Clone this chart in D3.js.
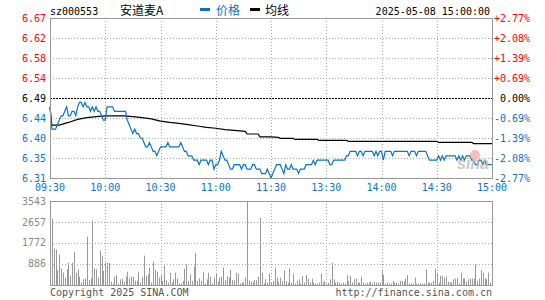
<!DOCTYPE html>
<html>
<head>
<meta charset="utf-8">
<script src="https://cdn.jsdelivr.net/npm/d3@7"></script>
<style>
  body { margin: 0; background: #fff; }
  svg { display: block; }
  text { font-family: "DejaVu Sans Mono", monospace; font-size: 10px; }
</style>
</head>
<body>
<div id="chart"></div>
<script>
// minute-by-minute price, 09:30 .. 11:30 (0..120) then 13:01 .. 15:00 (121..240)
var priceAM = [
  6.47, 6.42, 6.42, 6.42, 6.43, 6.44, 6.45, 6.45, 6.46, 6.47,
  6.45, 6.45, 6.46, 6.46, 6.45, 6.47, 6.48, 6.48, 6.47, 6.48,
  6.47, 6.47, 6.46, 6.47, 6.46, 6.47, 6.46, 6.46, 6.45, 6.44,
  6.44, 6.47, 6.47, 6.47, 6.47, 6.46, 6.46, 6.46, 6.46, 6.46,
  6.46, 6.46, 6.44, 6.43, 6.42, 6.41, 6.42, 6.41, 6.41, 6.40,
  6.40, 6.39, 6.38, 6.38, 6.39, 6.38, 6.37, 6.37, 6.36, 6.37,
  6.38, 6.38, 6.38, 6.38, 6.39, 6.38, 6.38, 6.38, 6.38, 6.38,
  6.38, 6.39, 6.38, 6.37, 6.37, 6.36, 6.36, 6.36, 6.35, 6.35,
  6.35, 6.34, 6.35, 6.35, 6.35, 6.35, 6.34, 6.35, 6.35, 6.33,
  6.34, 6.34, 6.35, 6.37, 6.36, 6.35, 6.35, 6.34, 6.33, 6.33,
  6.34, 6.34, 6.34, 6.34, 6.33, 6.34, 6.34, 6.33, 6.33, 6.33,
  6.34, 6.34, 6.33, 6.33, 6.33, 6.32, 6.32, 6.32, 6.33, 6.32,
  6.31
]
var pricePM = [
  6.32, 6.33, 6.34, 6.34, 6.34, 6.33, 6.32, 6.34, 6.33, 6.33,
  6.34, 6.33, 6.33, 6.33, 6.32, 6.33, 6.33, 6.33, 6.34, 6.34,
  6.34, 6.34, 6.35, 6.34, 6.35, 6.35, 6.35, 6.35, 6.35, 6.35,
  6.35, 6.34, 6.34, 6.35, 6.35, 6.35, 6.35, 6.35, 6.35, 6.35,
  6.36, 6.36, 6.37, 6.37, 6.37, 6.37, 6.36, 6.37, 6.37, 6.36,
  6.37, 6.37, 6.37, 6.37, 6.37, 6.36, 6.37, 6.36, 6.37, 6.37,
  6.35, 6.37, 6.37, 6.37, 6.37, 6.36, 6.37, 6.37, 6.37, 6.37,
  6.37, 6.37, 6.37, 6.37, 6.36, 6.37, 6.37, 6.37, 6.36, 6.37,
  6.37, 6.37, 6.37, 6.37, 6.36, 6.35, 6.35, 6.35, 6.35, 6.35,
  6.36, 6.35, 6.36, 6.35, 6.36, 6.36, 6.36, 6.36, 6.36, 6.36,
  6.35, 6.36, 6.35, 6.36, 6.35, 6.36, 6.36, 6.36, 6.35, 6.35,
  6.34, 6.34, 6.35, 6.35, 6.34, 6.35, 6.34, 6.34, 6.34, 6.34
]

// average price line, read at its turning points
var avgMinute = [0, 1, 5, 10, 15, 20, 25, 30, 40, 45, 50, 55, 60, 65, 70, 75, 80, 85, 90, 95, 100, 106, 107, 113, 114, 120, 124, 125, 132, 133, 145, 146, 161, 162, 210, 211, 229, 230, 240]
var avgPrice  = [6.47, 6.429, 6.429, 6.435, 6.442, 6.446, 6.448, 6.45, 6.45, 6.448, 6.446, 6.443, 6.438, 6.435, 6.433, 6.43, 6.427, 6.424, 6.422, 6.419, 6.417, 6.415, 6.409, 6.409, 6.4025, 6.4025, 6.4015, 6.3993, 6.3993, 6.397, 6.397, 6.3948, 6.3948, 6.3925, 6.3925, 6.390, 6.390, 6.3875, 6.3875]

var volAM = [
  280, 2800, 1530, 1500, 620, 1290, 700, 520, 310, 660,
  940, 390, 940, 1400, 520, 660, 350, 100, 240, 280,
  2040, 200, 280, 2730, 700, 660, 310, 1460, 1240, 590,
  940, 940, 930, 140, 60, 350, 420, 60, 240, 270,
  140, 350, 560, 270, 350, 350, 180, 180, 560, 100,
  350, 1240, 380, 450, 730, 100, 980, 650, 560, 310,
  420, 170, 830, 200, 100, 520, 100, 240, 520, 280,
  60, 60, 170, 690, 870, 170, 450, 170, 770, 1360,
  170, 280, 170, 560, 60, 240, 520, 350, 60, 310,
  480, 140, 310, 350, 730, 200, 380, 310, 650, 200,
  200, 520, 480, 60, 100, 100, 310, 3543, 180, 150,
  100, 200, 200, 350, 2840, 520, 60, 240, 100, 480,
  100
]
var volPM = [
  170, 730, 310, 140, 310, 170, 620, 170, 100, 700,
  100, 480, 60, 170, 240, 60, 380, 100, 420, 270,
  100, 270, 100, 60, 60, 100, 480, 100, 170, 60,
  100, 240, 940, 240, 100, 140, 100, 60, 100, 60,
  420, 170, 380, 100, 240, 280, 100, 100, 350, 100,
  60, 100, 100, 140, 60, 140, 100, 100, 100, 650,
  420, 60, 100, 60, 60, 170, 100, 100, 60, 170,
  170, 140, 270, 420, 60, 60, 60, 310, 60, 60,
  60, 60, 60, 660, 100, 100, 100, 170, 700, 480,
  100, 390, 390, 310, 350, 140, 100, 100, 240, 280,
  310, 60, 520, 280, 280, 140, 240, 270, 270, 270,
  870, 170, 270, 620, 520, 280, 240, 520, 100, 620
]

var timeMinute = [0, 30, 60, 90, 120, 150, 180, 210, 240]
var timeLabels = ["09:30", "10:00", "10:30", "11:00", "11:30", "13:30", "14:00", "14:30", "15:00"]
var priceLevels = [6.67, 6.625, 6.58, 6.535, 6.49, 6.445, 6.40, 6.355, 6.31]
var priceLabels = ["6.67", "6.62", "6.58", "6.54", "6.49", "6.44", "6.40", "6.35", "6.31"]
var pctLabels = ["+2.77%", "+2.08%", "+1.39%", "+0.69%", "0.00%", "-0.69%", "-1.39%", "-2.08%", "-2.77%"]
var volLevels = [3543, 2657, 1772, 886]
var volLabels = ["3543", "2657", "1772", "886"]

var prevClose = 6.49
var blue = "#0b74c8", red = "#f00", gray = "#999"

var price = priceAM.concat(pricePM)
var volume = volAM.concat(volPM)

var svg = d3.select("#chart").append("svg")
  .attr("width", 545)
  .attr("height", 300)

var x = d3.scaleLinear().domain([0, 240]).range([50, 492])
var y = d3.scaleLinear().domain([6.31, 6.67]).range([178, 18])
var yv = d3.scaleLinear().domain([0, 3543]).range([285, 201])

function colorOf(i) { return i < 4 ? red : (i == 4 ? "#000" : blue) }

// price panel grid
var g = svg.append("g")
g.selectAll(".hgrid").data(priceLevels.filter(function(d) { return d != prevClose }))
  .enter().append("line")
  .attr("x1", x(0)).attr("x2", x(240))
  .attr("y1", function(d) { return Math.round(y(d)) + 0.5 })
  .attr("y2", function(d) { return Math.round(y(d)) + 0.5 })
  .attr("stroke", "#aaa").attr("stroke-dasharray", "1,2")

g.selectAll(".vgrid").data(timeMinute.slice(1, -1))
  .enter().append("line")
  .attr("x1", function(d) { return Math.round(x(d)) + 0.5 })
  .attr("x2", function(d) { return Math.round(x(d)) + 0.5 })
  .attr("y1", y(6.67)).attr("y2", y(6.31))
  .attr("stroke", "#aaa").attr("stroke-dasharray", "1,2")

g.append("line")
  .attr("x1", x(0)).attr("x2", x(240))
  .attr("y1", Math.round(y(prevClose)) + 0.5).attr("y2", Math.round(y(prevClose)) + 0.5)
  .attr("stroke", "#000").attr("stroke-dasharray", "2,1")

// average line
var avgLine = d3.line()
  .x(function(d, i) { return x(avgMinute[i]) })
  .y(function(d) { return y(d) })
g.append("path").datum(avgPrice)
  .attr("d", avgLine)
  .attr("fill", "none").attr("stroke", "#000").attr("stroke-width", 1.2)

// price line
var priceLine = d3.line()
  .x(function(d, i) { return x(i) })
  .y(function(d) { return y(d) })
g.append("path").datum(price)
  .attr("d", priceLine)
  .attr("fill", "none").attr("stroke", blue).attr("stroke-width", 1.2)

g.append("rect")
  .attr("x", x(0) + 0.5).attr("y", y(6.67) + 0.5)
  .attr("width", x(240) - x(0)).attr("height", y(6.31) - y(6.67))
  .attr("fill", "none").attr("stroke", gray)

// sina watermark
g.append("circle").attr("cx", 475).attr("cy", 155).attr("r", 5)
  .attr("fill", "#f4a0a0").attr("opacity", 0.7)
g.append("text").attr("x", 457).attr("y", 169)
  .text("sina")
  .style("font-family", "Liberation Sans, sans-serif")
  .style("font-size", "16px").style("font-style", "italic").style("font-weight", 700)
  .attr("fill", "#bbb").attr("opacity", 0.8)

// left and right labels
g.selectAll(".pl").data(priceLabels).enter().append("text")
  .attr("x", 46).attr("y", function(d, i) { return y(priceLevels[i]) + 3.5 })
  .attr("text-anchor", "end")
  .attr("fill", function(d, i) { return colorOf(i) })
  .text(function(d) { return d })

g.selectAll(".pr").data(pctLabels).enter().append("text")
  .attr("x", 530).attr("y", function(d, i) { return y(priceLevels[i]) + 3.5 })
  .attr("text-anchor", "end")
  .attr("fill", function(d, i) { return colorOf(i) })
  .text(function(d) { return d })

// time axis
g.selectAll(".tl").data(timeLabels).enter().append("text")
  .attr("x", function(d, i) { return x(timeMinute[i]) })
  .attr("y", 191)
  .attr("text-anchor", "middle")
  .attr("fill", blue)
  .text(function(d) { return d })

// header
svg.append("text").attr("x", 50).attr("y", 15).attr("fill", "#000").text("sz000553")
svg.append("text").attr("x", 120).attr("y", 15).attr("fill", "#000")
  .style("font-family", "'Noto Sans CJK SC', sans-serif").style("font-size", "12px")
  .text("安道麦A")
svg.append("rect").attr("x", 200).attr("y", 8).attr("width", 10).attr("height", 3).attr("fill", blue)
svg.append("text").attr("x", 216).attr("y", 15).attr("fill", blue)
  .style("font-family", "'Noto Sans CJK SC', sans-serif").style("font-size", "12px")
  .text("价格")
svg.append("rect").attr("x", 250).attr("y", 8).attr("width", 10).attr("height", 3).attr("fill", "#000")
svg.append("text").attr("x", 265).attr("y", 15).attr("fill", "#000")
  .style("font-family", "'Noto Sans CJK SC', sans-serif").style("font-size", "12px")
  .text("均线")
svg.append("text").attr("x", 490).attr("y", 15).attr("text-anchor", "end").attr("fill", "#000")
  .text("2025-05-08 15:00:00")

// volume panel
var v = svg.append("g")
v.selectAll(".vh").data(volLevels.slice(1))
  .enter().append("line")
  .attr("x1", x(0)).attr("x2", x(240))
  .attr("y1", function(d) { return Math.round(yv(d)) + 0.5 })
  .attr("y2", function(d) { return Math.round(yv(d)) + 0.5 })
  .attr("stroke", "#aaa").attr("stroke-dasharray", "1,2")

v.selectAll(".vv").data(timeMinute.slice(1, -1))
  .enter().append("line")
  .attr("x1", function(d) { return Math.round(x(d)) + 0.5 })
  .attr("x2", function(d) { return Math.round(x(d)) + 0.5 })
  .attr("y1", yv(3543)).attr("y2", yv(0))
  .attr("stroke", "#aaa").attr("stroke-dasharray", "1,2")

v.selectAll(".bar").data(volume).enter().append("rect")
  .attr("x", function(d, i) { return Math.round(x(i)) })
  .attr("y", function(d) { return yv(d) })
  .attr("width", 1)
  .attr("height", function(d) { return yv(0) - yv(d) })
  .attr("fill", gray)

v.append("rect")
  .attr("x", x(0) + 0.5).attr("y", yv(3543) + 0.5)
  .attr("width", x(240) - x(0)).attr("height", yv(0) - yv(3543))
  .attr("fill", "none").attr("stroke", gray)

v.selectAll(".vl").data(volLabels).enter().append("text")
  .attr("x", 46).attr("y", function(d, i) { return yv(volLevels[i]) + 3.5 })
  .attr("text-anchor", "end")
  .attr("fill", "#888")
  .text(function(d) { return d })

svg.append("text").attr("x", 50).attr("y", 296).attr("fill", "#555").text("Copyright 2025 SINA.COM")
svg.append("text").attr("x", 492).attr("y", 296).attr("text-anchor", "end").attr("fill", "#555")
  .text("http://finance.sina.com.cn")
</script>
</body>
</html>
